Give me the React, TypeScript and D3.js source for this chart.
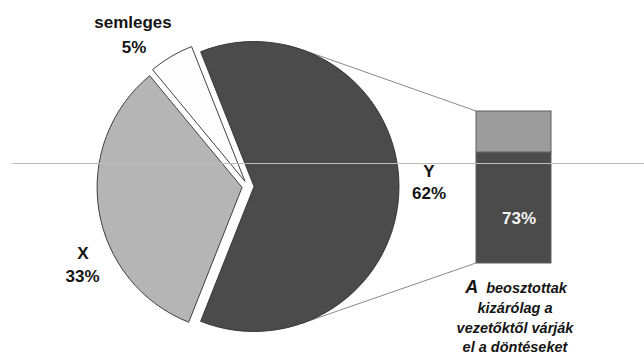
import React from "react";
import * as d3 from "d3";

// Pie shares (%), in drawing order starting at the top-right slice
const sliceNames = ["Y", "X", "semleges"];
const sliceValues = [62, 33, 5];
const sliceColors = ["#4b4b4b", "#b5b5b5", "#fdfdfd"];

// Breakdown of slice Y shown as a stacked bar (%)
const barParts = ["A beosztottak kizárólag a vezetőktől várják el a döntéseket", "egyéb"];
const barValues = [73, 27];
const barColors = ["#4b4b4b", "#9c9c9c"];

const captionLines = ["kizárólag a", "vezetőktől várják", "el a döntéseket"];

const W = 644;
const H = 354;
const FONT = "'Liberation Sans', Arial, Helvetica, sans-serif";

export default function App() {
  const cx = 248;
  const cy = 186.5;
  const r = 145;
  const explode = 6;

  const share = sliceValues[0] / 100;
  const start = Math.PI / 2 - share * Math.PI; // centre slice Y on the 3 o'clock axis
  const pie = d3
    .pie<number>()
    .sort(null)
    .startAngle(start)
    .endAngle(start + 2 * Math.PI)
    .value((d) => d);
  const arcs = pie(sliceValues);
  const arcGen = d3.arc<d3.PieArcDatum<number>>().innerRadius(0).outerRadius(r);

  const offset = (a: d3.PieArcDatum<number>) => {
    const mid = (a.startAngle + a.endAngle) / 2;
    return [Math.sin(mid) * explode, -Math.cos(mid) * explode];
  };

  // Bar scale
  const barX0 = 476;
  const barX1 = 551;
  const y = d3.scaleLinear().domain([0, 100]).range([263, 111]);
  const stacked: { y0: number; y1: number; color: string; v: number }[] = [];
  let acc = 0;
  barValues.forEach((v, i) => {
    stacked.push({ y0: acc, y1: acc + v, color: barColors[i], v });
    acc += v;
  });

  // Connector lines: tangents from bar corners to the Y slice circle
  const [ox, oy] = offset(arcs[0]);
  const yc = { x: cx + ox, y: cy + oy };
  const tangent = (px: number, py: number, upper: boolean) => {
    const dx = px - yc.x;
    const dy = py - yc.y;
    const d = Math.hypot(dx, dy);
    const base = Math.atan2(dy, dx);
    const a = Math.acos(r / d);
    const t = upper ? base - a : base + a;
    return { x: yc.x + r * Math.cos(t), y: yc.y + r * Math.sin(t) };
  };
  const tTop = tangent(barX0, y(100), true);
  const tBot = tangent(barX0, y(0), false);

  const drawOrder = [2, 1, 0];

  const labelStyle = { fontFamily: FONT, fontWeight: 700, fontSize: 17, fill: "#141414" } as const;

  return (
    <svg
      width={W}
      height={H}
      style={{ position: "absolute", left: 0, top: 0, background: "#fff" }}
    >
      <rect width={W} height={H} fill="#fff" />
      <line x1={tTop.x} y1={tTop.y} x2={barX0} y2={y(100)} stroke="#8a8a8a" strokeWidth={1} />
      <line x1={tBot.x} y1={tBot.y} x2={barX0} y2={y(0)} stroke="#8a8a8a" strokeWidth={1} />

      {drawOrder.map((i) => {
        const a = arcs[i];
        const [dx, dy] = offset(a);
        return (
          <path
            key={sliceNames[i]}
            d={arcGen(a) || ""}
            transform={`translate(${cx + dx},${cy + dy})`}
            fill={sliceColors[i]}
            stroke="#2e2e2e"
            strokeWidth={0.9}
            strokeLinejoin="miter"
          />
        );
      })}

      {stacked.map((s, i) => (
        <rect
          key={barParts[i]}
          x={barX0}
          y={y(s.y1)}
          width={barX1 - barX0}
          height={y(s.y0) - y(s.y1)}
          fill={s.color}
          stroke="#5e5e5e"
          strokeWidth={1}
        />
      ))}

      <line x1={12} y1={163.5} x2={W} y2={163.5} stroke="#bcbcbc" strokeWidth={1.2} />

      <text x={133} y={28} textAnchor="middle" {...labelStyle}>
        {sliceNames[2]}
      </text>
      <text x={134} y={53} textAnchor="middle" {...labelStyle}>
        {`${sliceValues[2]}%`}
      </text>

      <text x={429} y={176.5} textAnchor="middle" {...labelStyle}>
        {sliceNames[0]}
      </text>
      <text x={429} y={199} textAnchor="middle" {...labelStyle}>
        {`${sliceValues[0]}%`}
      </text>

      <text x={83} y={259} textAnchor="middle" {...labelStyle}>
        {sliceNames[1]}
      </text>
      <text x={82.5} y={282} textAnchor="middle" {...labelStyle}>
        {`${sliceValues[1]}%`}
      </text>

      <text x={519} y={224} textAnchor="middle" {...labelStyle} fill="#f4f4f4">
        {`${barValues[0]}%`}
      </text>

      <text
        x={516}
        y={292.5}
        textAnchor="middle"
        fontFamily={FONT}
        fontWeight={700}
        fontStyle="italic"
        fontSize={14.5}
        fill="#141414"
      >
        <tspan fontSize={18}>A</tspan>
        <tspan dx={8}>beosztottak</tspan>
      </text>
      {captionLines.map((line, i) => (
        <text
          key={line}
          x={515}
          y={313 + i * 19.5}
          textAnchor="middle"
          fontFamily={FONT}
          fontWeight={700}
          fontStyle="italic"
          fontSize={14.5}
          fill="#141414"
        >
          {line}
        </text>
      ))}
    </svg>
  );
}
